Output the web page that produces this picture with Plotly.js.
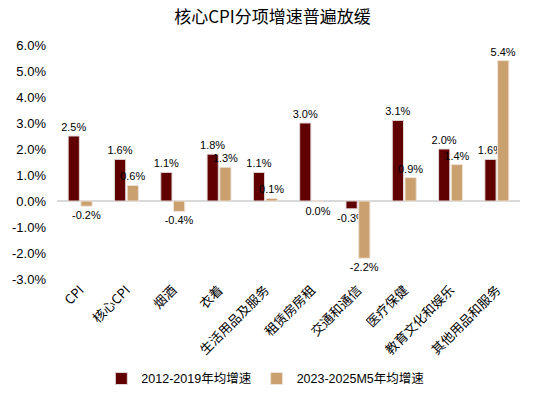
<!DOCTYPE html>
<html>
<head>
<meta charset="utf-8">
<script src="https://cdn.plot.ly/plotly-3.0.1.min.js"></script>
<style>html,body{margin:0;padding:0;background:#fff;}#chart{width:545px;height:399px;}</style>
</head>
<body>
<div id="chart"></div>
<script>
const categories = ['CPI','核心CPI','烟酒','衣着','生活用品及服务','租赁房房租','交通和通信','医疗保健','教育文化和娱乐','其他用品和服务'];
const series1Name = '2012-2019年均增速';
const series2Name = '2023-2025M5年均增速';
const series1 = [2.5, 1.6, 1.1, 1.8, 1.1, 3.0, -0.3, 3.1, 2.0, 1.6];
const series2 = [-0.2, 0.6, -0.4, 1.3, 0.1, -0.03, -2.2, 0.9, 1.4, 5.4];
const yTickVals = [-3, -2, -1, 0, 1, 2, 3, 4, 5, 6];

const fmt = v => ((Math.round(v * 10) / 10) || 0).toFixed(1) + '%';
const tickText = yTickVals.map(v => v.toFixed(1) + '%');

const common = {
  type: 'bar',
  x: categories,
  textposition: 'outside',
  constraintext: 'none',
  cliponaxis: false,
  textfont: {family: 'Liberation Sans, Arial, sans-serif', size: 11, color: '#000'},
  hoverinfo: 'skip'
};

const data = [
  Object.assign({}, common, {
    name: series1Name, y: series1, text: series1.map(fmt),
    marker: {color: '#600000', line: {color: '#e2d8d8', width: 1}}
  }),
  Object.assign({}, common, {
    name: series2Name, y: series2, text: series2.map(fmt),
    marker: {color: '#c9a06e', line: {color: '#ece3d8', width: 1}}
  })
];

const layout = {
  width: 545, height: 399,
  margin: {l: 57, r: 25, t: 45, b: 120, autoexpand: false},
  paper_bgcolor: '#fff', plot_bgcolor: '#fff',
  title: {text: '核心CPI分项增速普遍放缓', x: 0.5, xanchor: 'center', y: 0.957, yanchor: 'middle',
    font: {family: 'Noto Sans CJK SC, sans-serif', size: 17, color: '#000'}},
  barmode: 'group',
  bargap: 0.45,
  bargroupgap: 0.12,
  font: {family: 'Liberation Sans, Arial, sans-serif', color: '#000'},
  xaxis: {
    tickangle: -45, automargin: false,
    showgrid: false, showline: false, zeroline: false, ticks: '',
    tickfont: {family: 'Noto Sans CJK SC, sans-serif', size: 13, color: '#000'},
    fixedrange: true
  },
  yaxis: {
    range: [-3, 6], automargin: false,
    tickvals: yTickVals, ticktext: tickText,
    showgrid: false, showline: false,
    zeroline: true, zerolinecolor: '#d9d9d9', zerolinewidth: 2,
    ticks: '', ticklabelstandoff: 10,
    tickfont: {family: 'Liberation Sans, Arial, sans-serif', size: 13, color: '#000'},
    fixedrange: true
  },
  showlegend: true,
  legend: {orientation: 'h', x: 0.45, xanchor: 'center', y: -0.427, yanchor: 'middle',
    font: {family: 'Liberation Sans, Noto Sans CJK SC, sans-serif', size: 12.5, color: '#000'},
    itemwidth: 30, tracegroupgap: 0}
};

Plotly.newPlot('chart', data, layout, {displayModeBar: false, staticPlot: true});
</script>
</body>
</html>
